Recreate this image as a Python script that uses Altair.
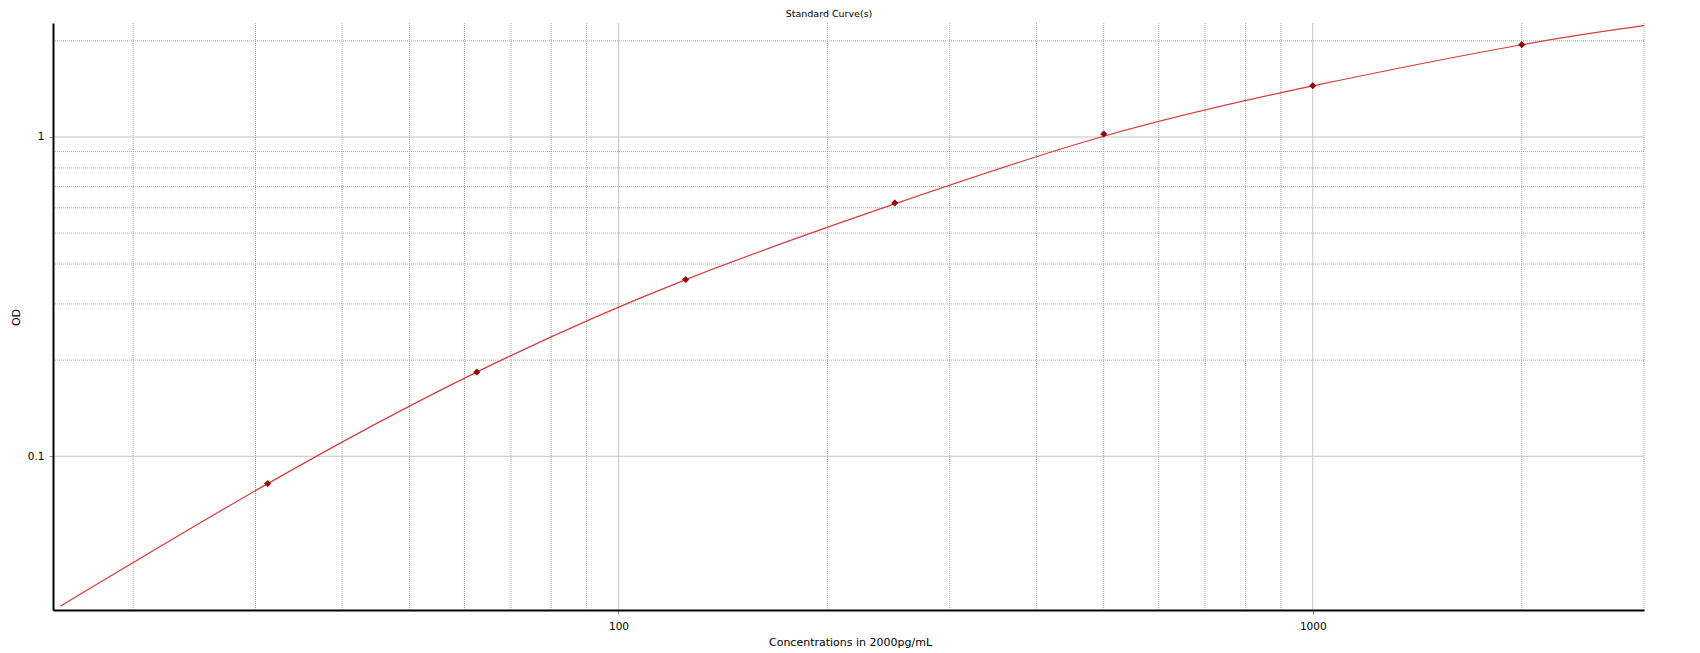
import altair as alt
import pandas as pd

# standards (concentration, OD)
conc = [31.25, 62.5, 125, 250, 500, 1000, 2000]
od = [0.0821, 0.1835, 0.3575, 0.6213, 1.022, 1.447, 1.945]

# fitted curve (ends of the plot and at each standard)
curve_x = [15.7, 31.25, 62.5, 125, 250, 500, 1000, 2000, 3000]
curve_y = [0.0339, 0.0821, 0.1835, 0.3575, 0.617, 1.005, 1.445, 1.945, 2.231]

# gridlines and tick labels
x_major = [100, 1000]
x_minor = [20, 30, 40, 50, 60, 70, 80, 90, 200, 300, 400, 500, 600, 700,
           800, 900, 2000, 3000]
y_major = [0.1, 1]
y_minor = [0.2, 0.3, 0.4, 0.5, 0.6, 0.7, 0.8, 0.9, 2]

title_text = ["Standard Curve(s)"]

FONT = "DejaVu Sans"
W, H = 1591, 587

xs = alt.Scale(type="log", domain=[15.33, 3000], nice=False)
ys = alt.Scale(type="log", domain=[0.033, 2.275], nice=False)

pts = pd.DataFrame({"conc": conc, "od": od})
fit = pd.DataFrame({"conc": curve_x, "od": curve_y})

# gridlines: dotted minor, solid major
vminor = alt.Chart(pd.DataFrame({"v": x_minor})).mark_rule(
    color="#aaaaaa", strokeWidth=1, strokeDash=[1, 1]
).encode(x=alt.X("v:Q", scale=xs))
vmajor = alt.Chart(pd.DataFrame({"v": x_major})).mark_rule(
    color="#c4c4c4", strokeWidth=1
).encode(x=alt.X("v:Q", scale=xs))
hminor = alt.Chart(pd.DataFrame({"v": y_minor})).mark_rule(
    color="#aaaaaa", strokeWidth=1, strokeDash=[1, 1]
).encode(y=alt.Y("v:Q", scale=ys))
hmajor = alt.Chart(pd.DataFrame({"v": y_major})).mark_rule(
    color="#c4c4c4", strokeWidth=1
).encode(y=alt.Y("v:Q", scale=ys))

line = alt.Chart(fit).mark_line(
    color="#d23c3c", strokeWidth=1.2, interpolate="natural", clip=True
).encode(
    x=alt.X(
        "conc:Q",
        scale=xs,
        title="Concentrations in 2000pg/mL",
        axis=alt.Axis(
            values=x_major,
            format="~g",
            grid=False,
            domainColor="black",
            domainWidth=2,
            tickColor="#999999",
            tickSize=4,
            labelFont=FONT,
            labelFontSize=10.5,
            labelColor="black",
            labelBaseline="middle",
            labelPadding=12,
            titleFont=FONT,
            titleFontSize=11,
            titleFontWeight="normal",
            titleColor="black",
            titleBaseline="middle",
            titleX=797,
            titleY=32,
            zindex=1,
        ),
    ),
    y=alt.Y(
        "od:Q",
        scale=ys,
        title="OD",
        axis=alt.Axis(
            values=y_major,
            format="~g",
            grid=False,
            domainColor="black",
            domainWidth=2,
            tickColor="#999999",
            tickSize=4,
            labelFont=FONT,
            labelFontSize=10.5,
            labelColor="black",
            labelPadding=5,
            titleFont=FONT,
            titleFontSize=11,
            titleFontWeight="normal",
            titleColor="black",
            titleAngle=270,
            titleBaseline="middle",
            titleX=-37,
            titleY=294,
            zindex=1,
        ),
    ),
)

dots = alt.Chart(pts).mark_point(
    shape="diamond", filled=True, size=40, color="#a50000",
    stroke="#5a0000", strokeWidth=0.6, opacity=1
).encode(
    x=alt.X("conc:Q", scale=xs),
    y=alt.Y("od:Q", scale=ys),
)

# chart title sits in the top padding, a little left of centre
title = alt.Chart(pd.DataFrame({"t": title_text})).mark_text(
    font=FONT, fontSize=9.5, color="black", align="center", baseline="middle"
).encode(text="t:N", x=alt.value(776), y=alt.value(-9.5))

chart = (
    alt.layer(vminor, hminor, vmajor, hmajor, line, dots, title)
    .properties(
        width=W,
        height=H,
        autosize=alt.AutoSizeParams(type="none"),
        padding={"left": 45, "top": 15, "right": 48, "bottom": 38},
    )
    .configure_view(strokeWidth=0)
)

chart.save("out.html", embed_options={"renderer": "svg", "actions": False})
